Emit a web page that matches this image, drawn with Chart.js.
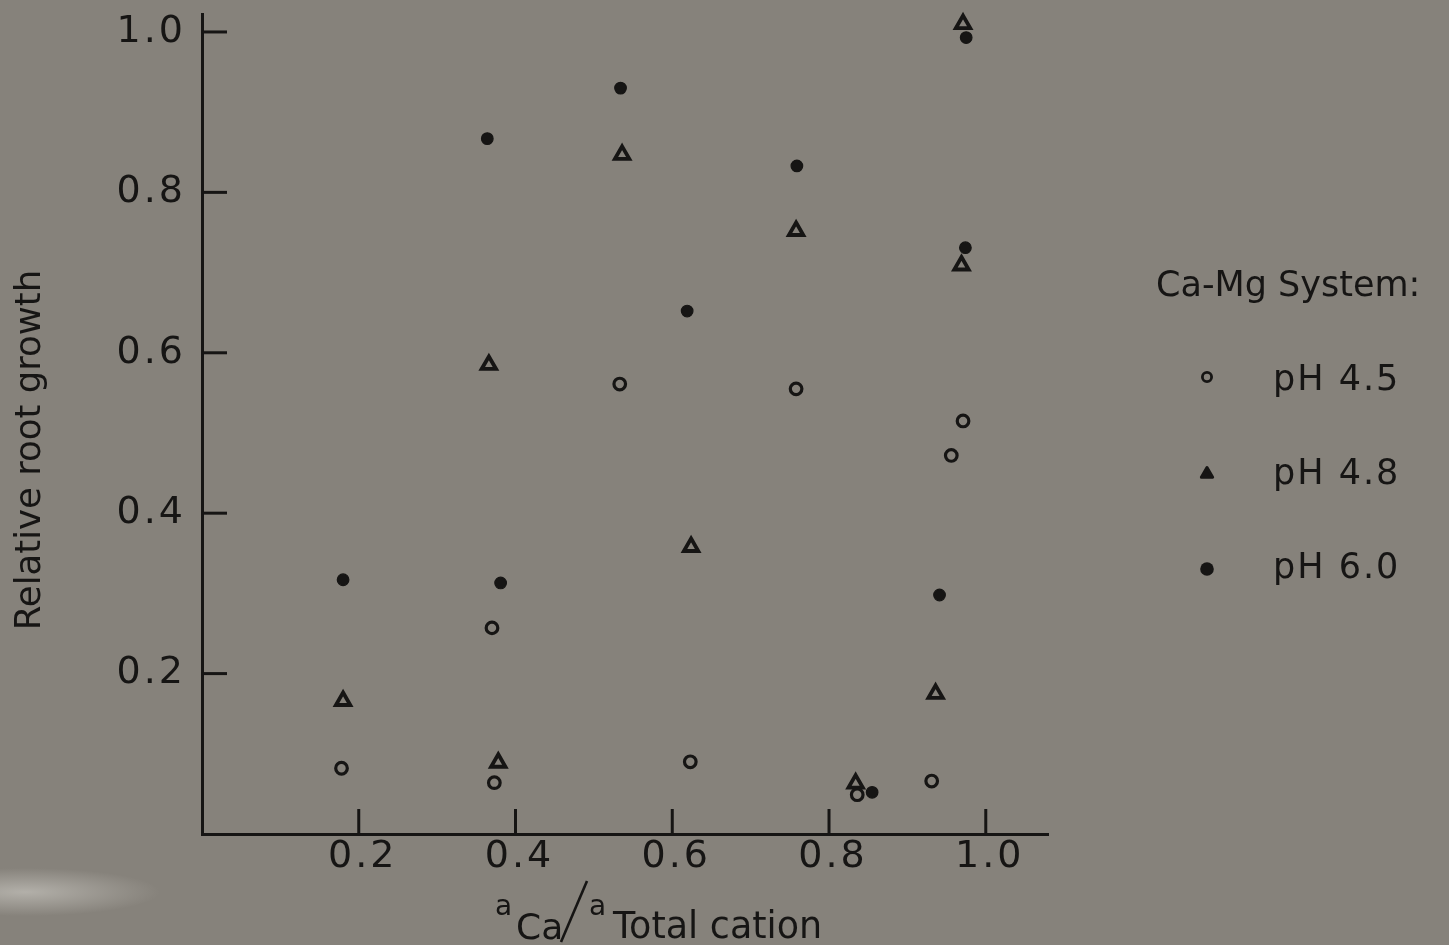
<!DOCTYPE html>
<html>
<head>
<meta charset="utf-8">
<title>Relative root growth, Ca-Mg system</title>
<script src="https://cdn.jsdelivr.net/npm/chart.js@4.4.1/dist/chart.umd.min.js"></script>
<style>
  html, body { margin: 0; padding: 0; background: #86827b; }
  #wrap {
    width: 1449px; height: 945px; position: relative; overflow: hidden;
    background:
      radial-gradient(ellipse 135px 24px at 25px 892px, rgba(215,213,207,0.55), rgba(215,213,207,0) 100%),
      #86827b;
  }
  canvas { display: block; position: relative; }
</style>
</head>
<body>
<div id="wrap"><canvas id="chart" width="1449" height="945"></canvas></div>
<script>
// ---- data: activity ratio aCa / aTotal cation vs. relative root growth ----
const seriesLabels = ['pH 4.5', 'pH 4.8', 'pH 6.0'];

const xPH45 = [0.178, 0.370, 0.373, 0.533, 0.623, 0.758, 0.836, 0.931, 0.956, 0.971];
const yPH45 = [0.082, 0.257, 0.064, 0.561, 0.090, 0.555, 0.049, 0.066, 0.472, 0.515];

const xPH48 = [0.180, 0.366, 0.378, 0.536, 0.624, 0.758, 0.834, 0.936, 0.969, 0.971];
const yPH48 = [0.166, 0.585, 0.089, 0.847, 0.358, 0.752, 0.063, 0.175, 0.709, 1.010];

const xPH60 = [0.180, 0.364, 0.381, 0.534, 0.619, 0.759, 0.855, 0.941, 0.974, 0.975];
const yPH60 = [0.317, 0.867, 0.313, 0.930, 0.652, 0.833, 0.052, 0.298, 0.731, 0.993];

const xTickValues = [0.2, 0.4, 0.6, 0.8, 1.0];
const xTickLabels = ['0.2', '0.4', '0.6', '0.8', '1.0'];
const yTickValues = [0.2, 0.4, 0.6, 0.8, 1.0];
const yTickLabels = ['0.2', '0.4', '0.6', '0.8', '1.0'];

const legendTitle = 'Ca-Mg System:';
const yAxisTitle = 'Relative root growth';
const xAxisTitleParts = ['a', 'Ca', 'a', 'Total cation'];

// ---- styling ----
const INK = '#161514';
const FAMILY = '"DejaVu Sans", "Open Sans", sans-serif';

function pairs(xs, ys) {
  return xs.map((x, i) => ({ x: x, y: ys[i] }));
}

function labelFor(values, labels) {
  return function (v) {
    const i = values.findIndex(t => Math.abs(t - v) < 1e-6);
    return i >= 0 ? labels[i] : '';
  };
}

// marker drawing shared by the legend
function drawMarker(ctx, style, x, y) {
  ctx.save();
  ctx.strokeStyle = INK;
  ctx.fillStyle = INK;
  if (style === 'open') {
    ctx.lineWidth = 2.8;
    ctx.beginPath();
    ctx.arc(x, y, 4.6, 0, Math.PI * 2);
    ctx.stroke();
  } else if (style === 'triangle') {
    const r = 6.5;
    ctx.lineWidth = 3;
    ctx.lineJoin = 'round';
    ctx.beginPath();
    ctx.moveTo(x, y - r);
    ctx.lineTo(x + r * Math.sin(Math.PI / 3), y + r * 0.5);
    ctx.lineTo(x - r * Math.sin(Math.PI / 3), y + r * 0.5);
    ctx.closePath();
    ctx.fill();
    ctx.stroke();
  } else {
    ctx.beginPath();
    ctx.arc(x, y, 6.8, 0, Math.PI * 2);
    ctx.fill();
  }
  ctx.restore();
}

const legendStyles = ['open', 'triangle', 'filled'];

const decorations = {
  id: 'decorations',
  beforeDraw(chart) {
    // wide digit spacing for the tick labels
    chart.ctx.letterSpacing = '3px';
  },
  afterDraw(chart) {
    const ctx = chart.ctx;
    const area = chart.chartArea;
    const xs = chart.scales.x;
    const ys = chart.scales.y;
    ctx.save();
    ctx.letterSpacing = '0px';
    ctx.strokeStyle = INK;
    ctx.fillStyle = INK;

    // tick marks pointing into the plot
    ctx.lineWidth = 3;
    xTickValues.forEach(v => {
      const px = xs.getPixelForValue(v);
      ctx.beginPath();
      ctx.moveTo(px, area.bottom);
      ctx.lineTo(px, area.bottom - 25);
      ctx.stroke();
    });
    yTickValues.forEach(v => {
      const py = ys.getPixelForValue(v);
      ctx.beginPath();
      ctx.moveTo(area.left, py);
      ctx.lineTo(area.left + 25, py);
      ctx.stroke();
    });

    // y-axis title
    ctx.save();
    ctx.translate(40, 450);
    ctx.rotate(-Math.PI / 2);
    ctx.font = '35.5px ' + FAMILY;
    ctx.textAlign = 'center';
    ctx.textBaseline = 'alphabetic';
    ctx.fillText(yAxisTitle, 0, 0);
    ctx.restore();

    // x-axis title: aCa / aTotal cation
    ctx.textAlign = 'left';
    ctx.textBaseline = 'alphabetic';
    ctx.font = '28px ' + FAMILY;
    ctx.fillText(xAxisTitleParts[0], 495, 915);
    ctx.font = '36px ' + FAMILY;
    ctx.fillText(xAxisTitleParts[1], 516, 939);
    ctx.lineWidth = 2.6;
    ctx.beginPath();
    ctx.moveTo(561, 942);
    ctx.lineTo(587, 881);
    ctx.stroke();
    ctx.font = '28px ' + FAMILY;
    ctx.fillText(xAxisTitleParts[2], 589, 915);
    ctx.font = '36.5px ' + FAMILY;
    ctx.fillText(xAxisTitleParts[3], 613, 938);

    // legend
    ctx.font = '35px ' + FAMILY;
    ctx.fillText(legendTitle, 1156, 296);
    const markerY = [377, 474, 569];
    const textBase = [390, 484, 578];
    ctx.letterSpacing = '2px';
    seriesLabels.forEach((lab, i) => {
      drawMarker(ctx, legendStyles[i], 1207, markerY[i]);
      ctx.fillText(lab, 1273, textBase[i]);
    });
    ctx.restore();
  }
};

const tickFont = { family: FAMILY, size: 38 };

new Chart(document.getElementById('chart'), {
  type: 'scatter',
  data: {
    datasets: [
      {
        label: seriesLabels[0],
        data: pairs(xPH45, yPH45),
        pointStyle: 'circle',
        pointRadius: 5.8,
        borderWidth: 3.2,
        borderColor: INK,
        backgroundColor: 'rgba(0,0,0,0)',
        clip: false
      },
      {
        label: seriesLabels[1],
        data: pairs(xPH48, yPH48),
        pointStyle: 'triangle',
        pointRadius: 8.3,
        borderWidth: 3.8,
        borderColor: INK,
        backgroundColor: 'rgba(0,0,0,0)',
        clip: false
      },
      {
        label: seriesLabels[2],
        data: pairs(xPH60, yPH60),
        pointStyle: 'circle',
        pointRadius: 5.8,
        borderWidth: 1.2,
        borderColor: INK,
        backgroundColor: INK,
        clip: false
      }
    ]
  },
  options: {
    responsive: false,
    animation: false,
    events: [],
    layout: { autoPadding: false, padding: { left: 0, top: 14, right: 401, bottom: 0 } },
    plugins: {
      legend: { display: false },
      tooltip: { enabled: false }
    },
    scales: {
      x: {
        type: 'linear',
        position: 'bottom',
        min: 0,
        max: 1.0794,
        grid: { display: false, drawTicks: false },
        border: { display: true, color: INK, width: 3 },
        ticks: {
          color: INK,
          font: tickFont,
          padding: 0,
          labelOffset: 4,
          maxRotation: 0,
          autoSkip: false,
          includeBounds: false,
          callback: labelFor(xTickValues, xTickLabels)
        },
        afterBuildTicks(scale) {
          scale.ticks = xTickValues.map(v => ({ value: v }));
        },
        afterFit(scale) {
          scale.height = 111;
          scale.paddingLeft = 0;
          scale.paddingRight = 0;
        }
      },
      y: {
        type: 'linear',
        min: 0,
        max: 1.0224,
        grid: { display: false, drawTicks: false },
        border: { display: true, color: INK, width: 3 },
        ticks: {
          color: INK,
          font: tickFont,
          padding: 16,
          autoSkip: false,
          includeBounds: false,
          callback: labelFor(yTickValues, yTickLabels)
        },
        afterBuildTicks(scale) {
          scale.ticks = yTickValues.map(v => ({ value: v }));
        },
        afterFit(scale) {
          scale.width = 202;
          scale.paddingTop = 0;
          scale.paddingBottom = 0;
        }
      }
    }
  },
  plugins: [decorations]
});
</script>
</body>
</html>
